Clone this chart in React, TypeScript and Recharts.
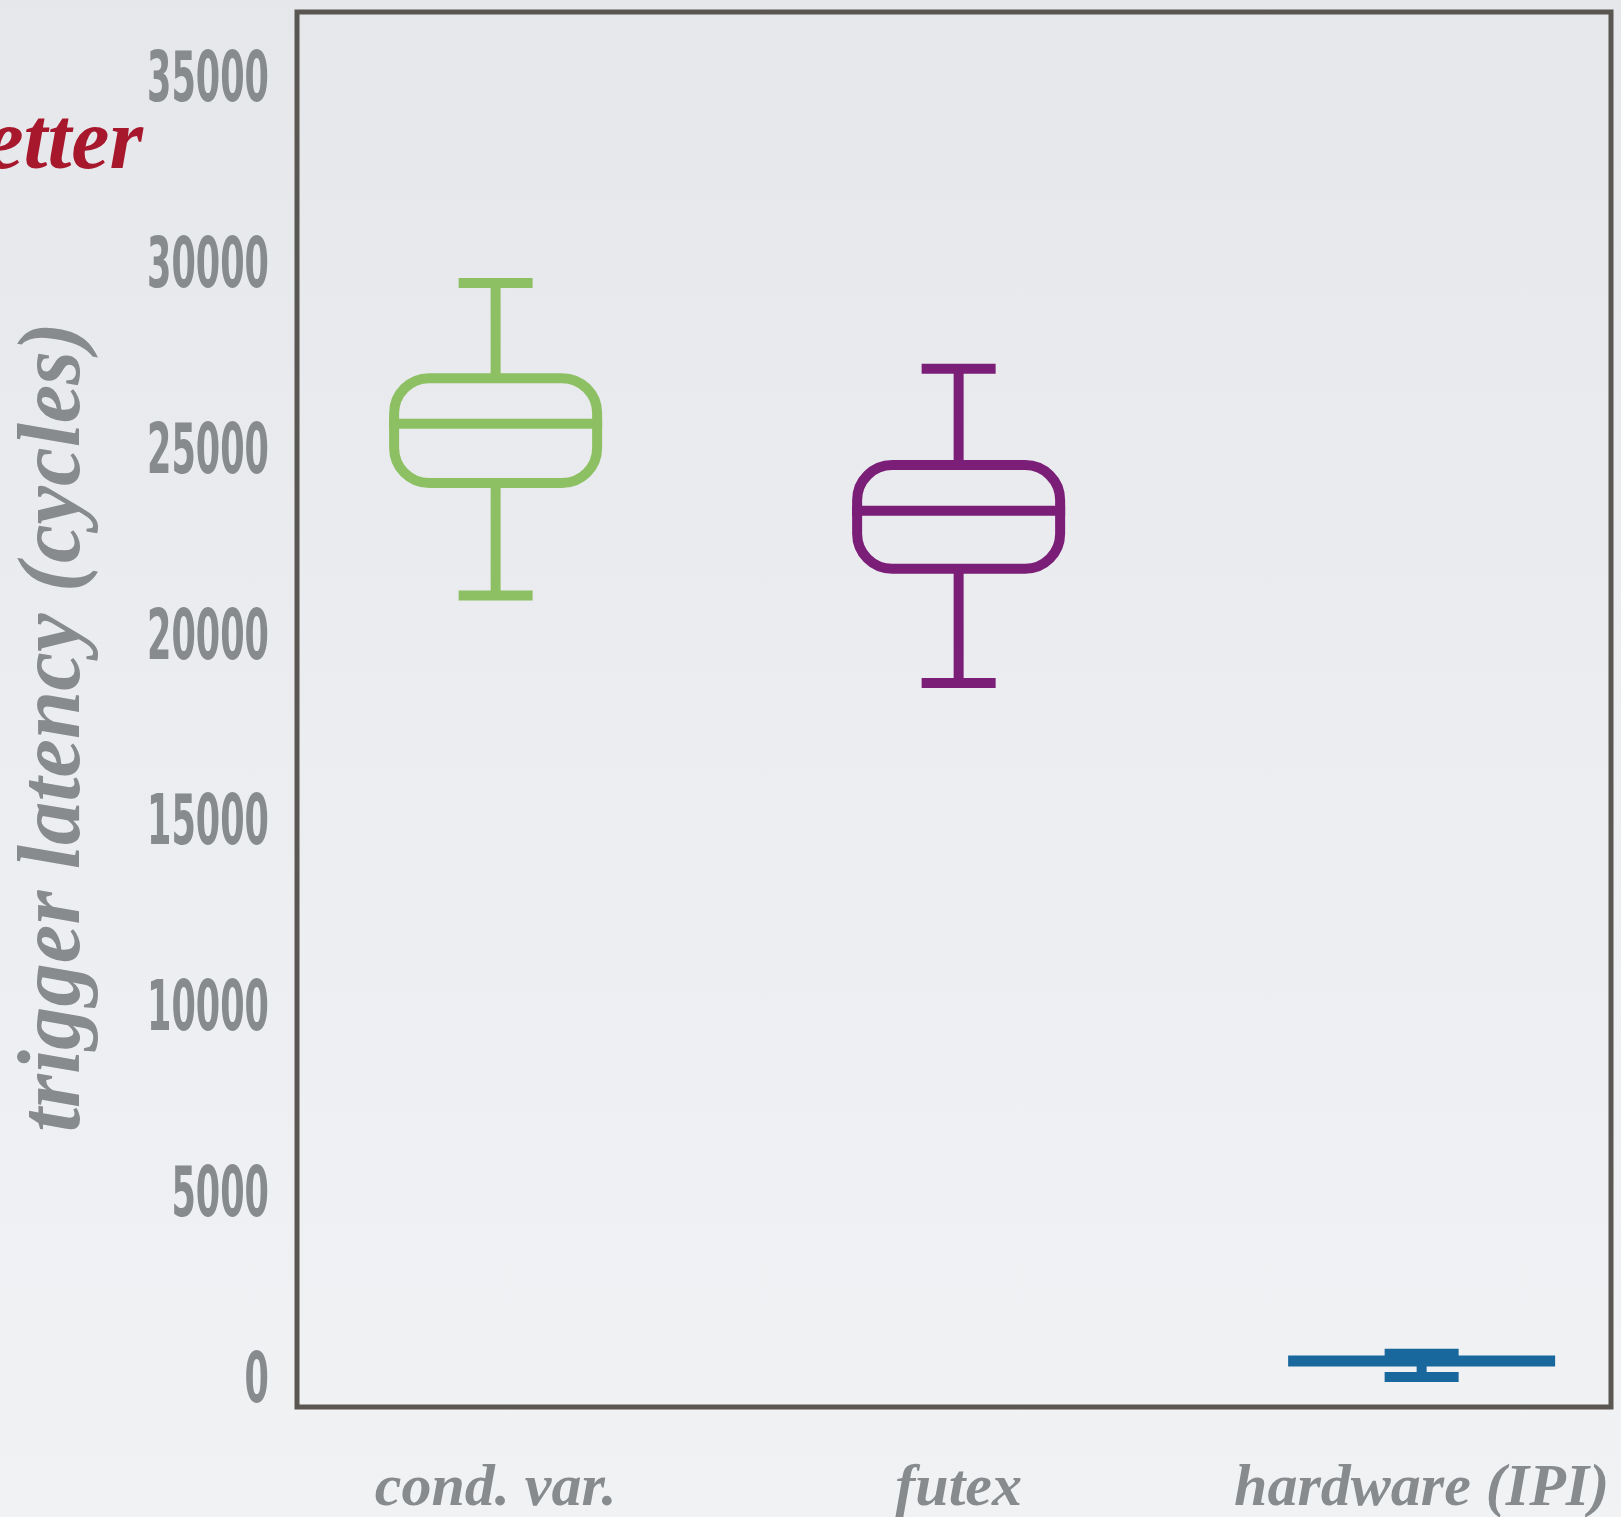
import React from 'react';
import { ComposedChart, Bar, XAxis, YAxis, ReferenceArea } from 'recharts';

// Trigger latency distributions (cycles), one box per mechanism
const CATEGORIES = ['cond. var.', 'futex', 'hardware (IPI)'];
const WHISKER_LOW = [21050, 18700, 30];
const Q1 = [24080, 21770, 420];
const MEDIAN = [25670, 23330, 460];
const Q3 = [26900, 24560, 500];
const WHISKER_HIGH = [29460, 27150, 650];
const Y_TICKS = [0, 5000, 10000, 15000, 20000, 25000, 30000, 35000];

const COLORS = ['#8CC063', '#7A1E77', '#18679D'];

const data = CATEGORIES.map((name, i) => ({
  idx: i,
  name,
  low: WHISKER_LOW[i],
  q1: Q1[i],
  median: MEDIAN[i],
  q3: Q3[i],
  high: WHISKER_HIGH[i],
  color: COLORS[i],
}));

const W = 1621;
const H = 1517;
const STROKE = 10;
const BOX_W = 203;
const COLLAPSED_W = 267;
const CAP_W = 74;
const RADIUS = 35;
const LABEL_GREY = '#878B8D';
const FRAME = '#5A5753';

const roundedRect = (x0: number, y0: number, w: number, h: number, r: number) => {
  const rr = Math.min(r, h / 2, w / 2);
  return `M${x0 + rr},${y0} H${x0 + w - rr} A${rr},${rr} 0 0 1 ${x0 + w},${y0 + rr} V${y0 + h - rr} A${rr},${rr} 0 0 1 ${x0 + w - rr},${y0 + h} H${x0 + rr} A${rr},${rr} 0 0 1 ${x0},${y0 + h - rr} V${y0 + rr} A${rr},${rr} 0 0 1 ${x0 + rr},${y0} Z`;
};

// Draws a whisker box from the range bar [low, high] geometry
const BoxShape = (props: any) => {
  const { x, y, width, height, payload } = props;
  if (!payload) return null;
  const cx = x + width / 2;
  const span = payload.high - payload.low;
  const py = (v: number) => y + ((payload.high - v) / span) * height;
  const yHigh = py(payload.high);
  const yLow = py(payload.low);
  const yQ3 = py(payload.q3);
  const yQ1 = py(payload.q1);
  const yMed = py(payload.median);
  const c = payload.color;
  const boxH = yQ1 - yQ3;
  const collapsed = boxH < STROKE;
  return (
    <g>
      <line x1={cx} x2={cx} y1={yHigh - 2} y2={yQ3} stroke={c} strokeWidth={STROKE} />
      <line x1={cx} x2={cx} y1={yQ1} y2={yLow} stroke={c} strokeWidth={STROKE} />
      <line x1={cx - CAP_W / 2} x2={cx + CAP_W / 2} y1={yHigh} y2={yHigh} stroke={c} strokeWidth={STROKE} />
      <line x1={cx - CAP_W / 2} x2={cx + CAP_W / 2} y1={yLow} y2={yLow} stroke={c} strokeWidth={STROKE} />
      {collapsed ? (
        <line
          x1={cx - COLLAPSED_W / 2}
          x2={cx + COLLAPSED_W / 2}
          y1={yMed}
          y2={yMed}
          stroke={c}
          strokeWidth={STROKE + 1}
        />
      ) : (
        <>
          <path d={roundedRect(cx - BOX_W / 2, yQ3, BOX_W, boxH, RADIUS)} fill="none" stroke={c} strokeWidth={STROKE} />
          <line
            x1={cx - BOX_W / 2 - STROKE / 2}
            x2={cx + BOX_W / 2 + STROKE / 2}
            y1={yMed}
            y2={yMed}
            stroke={c}
            strokeWidth={STROKE}
          />
        </>
      )}
    </g>
  );
};

const YTick = (props: any) => {
  const { x, y, payload } = props;
  const s = String(payload.value);
  return (
    <text
      x={x - 28}
      y={y + 24}
      textAnchor="end"
      fill={LABEL_GREY}
      fontFamily="'Liberation Sans Narrow', 'DejaVu Sans Condensed', sans-serif"
      fontWeight="bold"
      fontSize={70}
      textLength={s.length * 24.4}
      lengthAdjust="spacingAndGlyphs"
    >
      {s}
    </text>
  );
};

const XTick = (props: any) => {
  const { x, y, payload } = props;
  return (
    <text
      x={x}
      y={y + 98}
      textAnchor="middle"
      fill={LABEL_GREY}
      fontFamily="'Liberation Serif', 'DejaVu Serif', serif"
      fontStyle="italic"
      fontWeight="bold"
      fontSize={60}
    >
      {CATEGORIES[payload.value]}
    </text>
  );
};

// Rotated axis title plus the "better" hint to its upper left
const AxisTitle = () => (
  <g>
    <text
      transform="translate(79, 727) rotate(-90)"
      textAnchor="middle"
      fill={LABEL_GREY}
      fontFamily="'Liberation Serif', 'DejaVu Serif', serif"
      fontStyle="italic"
      fontWeight="bold"
      fontSize={88}
      textLength={810}
      lengthAdjust="spacingAndGlyphs"
    >
      trigger latency (cycles)
    </text>
    <text
      x={143}
      y={168}
      textAnchor="end"
      fill="#A8182D"
      fontFamily="'Liberation Serif', 'DejaVu Serif', serif"
      fontStyle="italic"
      fontWeight="bold"
      fontSize={86}
    >
      better
    </text>
  </g>
);

export default function App() {
  return (
    <div
      style={{
        position: 'absolute',
        left: 0,
        top: 0,
        width: W,
        height: H,
        background: 'linear-gradient(180deg, #E5E7EA 0%, #ECEDF0 50%, #F1F2F4 100%)',
        overflow: 'hidden',
      }}
    >
      <ComposedChart width={W} height={H} data={data} margin={{ top: 12, right: 10, bottom: 0, left: 0 }}>
        <XAxis
          type="number"
          dataKey="idx"
          domain={[-0.429, 2.409]}
          ticks={[0, 1, 2]}
          allowDataOverflow
          axisLine={false}
          tickLine={false}
          tickSize={0}
          tickMargin={0}
          height={110}
          interval={0}
          tick={<XTick />}
        />
        <YAxis
          type="number"
          domain={[-780, 36750]}
          ticks={Y_TICKS}
          allowDataOverflow
          axisLine={false}
          tickLine={false}
          tickSize={0}
          tickMargin={0}
          width={297}
          interval={0}
          tick={<YTick />}
          label={<AxisTitle />}
        />
        <ReferenceArea
          x1={-0.429}
          x2={2.409}
          y1={-780}
          y2={36750}
          fill="none"
          fillOpacity={0}
          stroke={FRAME}
          strokeWidth={5}
          ifOverflow="visible"
        />
        <Bar
          dataKey={(d: any) => [d.low, d.high]}
          barSize={COLLAPSED_W}
          shape={<BoxShape />}
          isAnimationActive={false}
        />
      </ComposedChart>
    </div>
  );
}
